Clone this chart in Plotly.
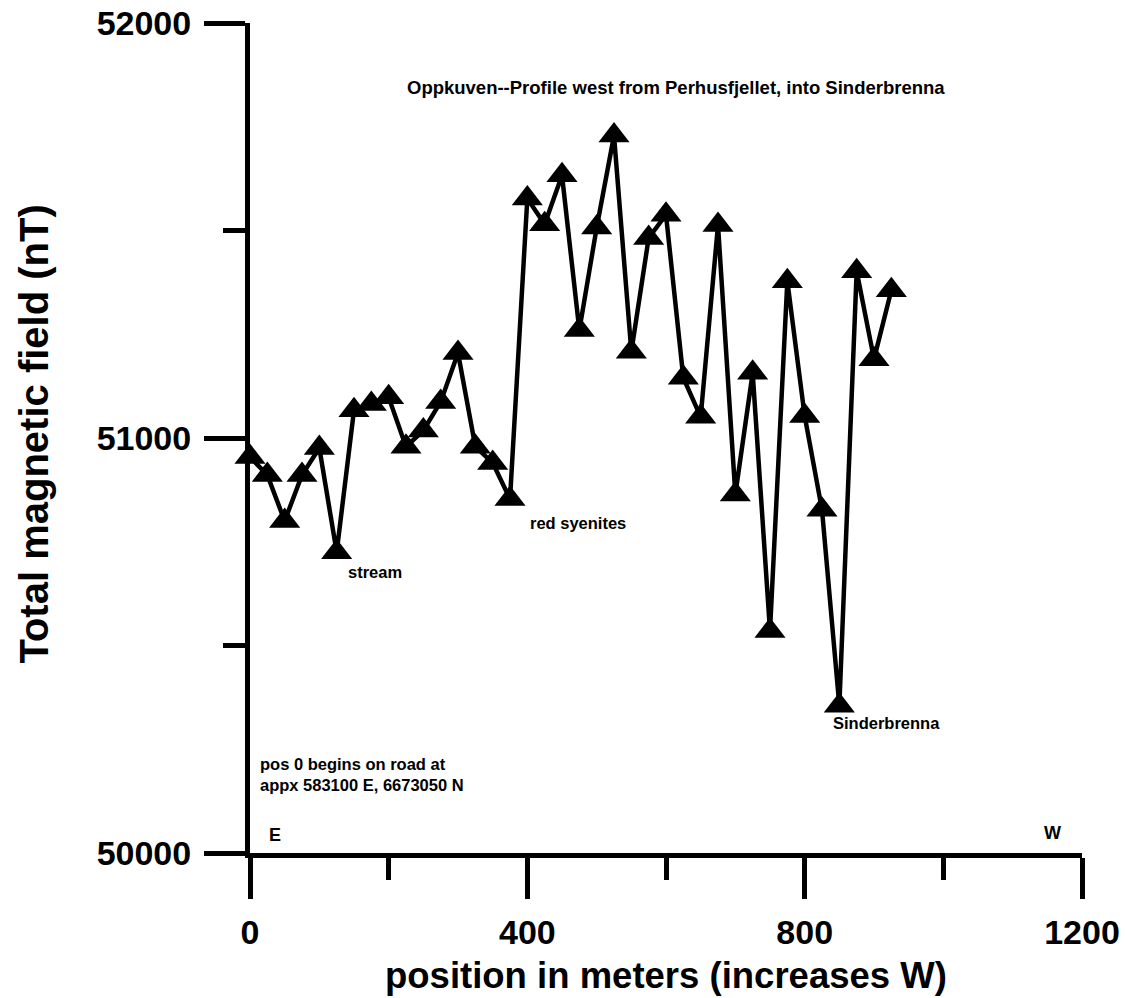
import plotly.graph_objects as go

# Magnetometer traverse: station position (m, increasing westward) and total field (nT)
positions = [0, 25, 50, 75, 100, 125, 150, 175, 200, 225, 250, 275, 300, 325, 350, 375,
             400, 425, 450, 475, 500, 525, 550, 575, 600, 625, 650, 675, 700, 725, 750,
             775, 800, 825, 850, 875, 900, 925]
field_nt = [50954, 50911, 50800, 50911, 50976, 50725, 51067, 51082, 51098, 50979, 51018,
            51087, 51205, 50979, 50940, 50853, 51577, 51515, 51633, 51260, 51507, 51729,
            51208, 51482, 51538, 51145, 51051, 51513, 50864, 51157, 50535, 51378, 51053,
            50827, 50355, 51402, 51190, 51356]

x_ticks = [0, 400, 800, 1200]
y_ticks = [50000, 51000, 52000]

FONT = "Arial, Liberation Sans, sans-serif"

fig = go.Figure()
fig.add_trace(go.Scatter(
    x=positions, y=field_nt, mode="lines+markers",
    line=dict(color="black", width=4.5),
    marker=dict(symbol="triangle-up", size=27, color="black"),
    cliponaxis=False, showlegend=False,
))

axis_common = dict(
    showline=True, linewidth=5, linecolor="black",
    ticks="outside", ticklen=41, tickwidth=5, tickcolor="black",
    showgrid=False, zeroline=False, automargin=False,
    tickfont=dict(family=FONT, size=34, color="black", weight="bold"),
)

fig.update_xaxes(
    range=[0, 1200], tickmode="array", tickvals=x_ticks,
    ticktext=[str(v) for v in x_ticks], ticklabelstandoff=4,
    minor=dict(dtick=200, ticks="outside", ticklen=22, tickwidth=5, tickcolor="black"),
    **axis_common,
)
fig.update_yaxes(
    range=[50000, 52000], tickmode="array", tickvals=y_ticks,
    ticktext=[str(v) for v in y_ticks], ticklabelstandoff=6,
    minor=dict(dtick=500, ticks="outside", ticklen=22, tickwidth=5, tickcolor="black"),
    **axis_common,
)

def label(text, x, y, size=16.5, xanchor="left", **kw):
    fig.add_annotation(text=text, x=x, y=y, xref="x", yref="y", showarrow=False,
                       xanchor=xanchor, yanchor="middle", align="left",
                       font=dict(family=FONT, size=size, color="black", weight="bold"), **kw)

label("Oppkuven--Profile west from Perhusfjellet, into Sinderbrenna", 614, 51845,
      size=18.5, xanchor="center")
label("stream", 139, 50676)
label("red syenites", 401, 50796)
label("Sinderbrenna", 838, 50314)
label("pos 0 begins on road at<br>appx 583100 E, 6673050 N", 11.5, 50189)
label("E", 36, 50044, size=18, xanchor="center")
label("W", 1158, 50049, size=18, xanchor="center")

# Axis titles
fig.add_annotation(text="position in meters (increases W)", x=0.5, y=-0.148,
                   xref="paper", yref="paper", showarrow=False,
                   xanchor="center", yanchor="middle",
                   font=dict(family=FONT, size=36.5, color="black", weight="bold"))
fig.add_annotation(text="Total magnetic field (nT)", x=-0.26, y=0.505,
                   xref="paper", yref="paper", showarrow=False, textangle=-90,
                   xanchor="center", yanchor="middle",
                   font=dict(family=FONT, size=40, color="black", weight="bold"))

fig.update_layout(
    width=1125, height=998,
    margin=dict(l=250, r=43, t=23, b=145),
    paper_bgcolor="white", plot_bgcolor="white",
    font=dict(family=FONT, color="black"),
)

fig.write_html("out.html")
